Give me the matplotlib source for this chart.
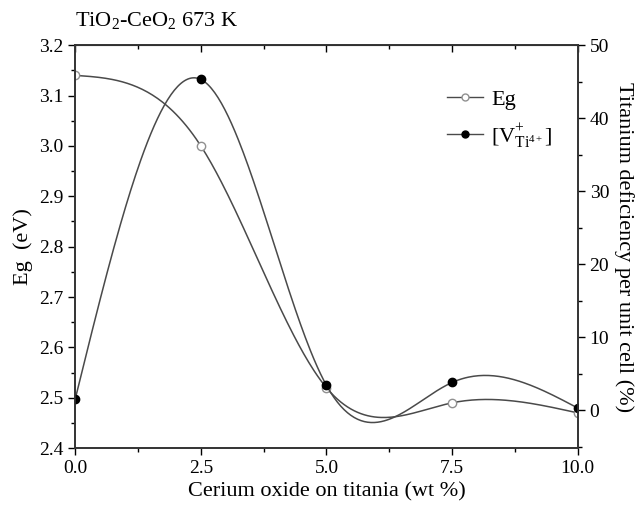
import numpy as np
import matplotlib
matplotlib.use('Agg')
from matplotlib import pyplot as plt
from matplotlib.ticker import MultipleLocator

# data
ceria = [0.0, 2.5, 5.0, 7.5, 10.0]
eg = [3.14, 3.00, 2.52, 2.49, 2.47]
vacancy = [1.5, 45.3, 3.4, 3.8, 0.3]


def natural_spline(x, y, n=300):
    # natural cubic spline so the lines look like the smoothed original
    x = np.asarray(x, float)
    y = np.asarray(y, float)
    h = np.diff(x)
    k = len(x)
    A = np.zeros((k, k))
    b = np.zeros(k)
    A[0, 0] = A[-1, -1] = 1
    for i in range(1, k - 1):
        A[i, i - 1] = h[i - 1]
        A[i, i] = 2 * (h[i - 1] + h[i])
        A[i, i + 1] = h[i]
        b[i] = 6 * ((y[i + 1] - y[i]) / h[i] - (y[i] - y[i - 1]) / h[i - 1])
    m = np.linalg.solve(A, b)
    xs = np.linspace(x[0], x[-1], n)
    idx = np.clip(np.searchsorted(x, xs) - 1, 0, k - 2)
    t0 = xs - x[idx]
    t1 = x[idx + 1] - xs
    hh = h[idx]
    ys = (m[idx] * t1**3 + m[idx + 1] * t0**3) / (6 * hh) \
        + (y[idx] / hh - m[idx] * hh / 6) * t1 \
        + (y[idx + 1] / hh - m[idx + 1] * hh / 6) * t0
    return xs, ys


plt.rcParams['font.family'] = 'Liberation Serif'
plt.rcParams['mathtext.fontset'] = 'custom'
plt.rcParams['mathtext.rm'] = 'Liberation Serif'
plt.rcParams['mathtext.it'] = 'Liberation Serif'

fig = plt.figure(figsize=(6.37, 5.07), dpi=100)
ax = fig.add_axes([0.118, 0.116, 0.789, 0.795])
ax2 = ax.twinx()

line_col = '#4a4a4a'
xs, ys = natural_spline(ceria, eg)
ax.plot(xs, ys, color=line_col, lw=1.1)
ax.plot(ceria, eg, 'o', ms=6, mfc='white', mec='#909090', mew=1)

xs2, ys2 = natural_spline(ceria, vacancy)
ax2.plot(xs2, ys2, color=line_col, lw=1.1)
ax2.plot(ceria, vacancy, 'o', ms=6, mfc='black', mec='black')

# legend proxies
h1, = ax.plot([], [], '-o', color=line_col, lw=1, ms=5, mfc='white', mec='#909090')
h2, = ax.plot([], [], '-o', color=line_col, lw=1, ms=5, mfc='black', mec='black')
ax.legend([h1, h2], ['Eg', r'[V$^{+}_{\mathrm{Ti}^{4+}}$]'], loc='upper left',
          bbox_to_anchor=(0.70, 0.94), frameon=False, fontsize=16,
          handlelength=1.6, handletextpad=0.4, labelspacing=0.5)

ax.set_xlim(0, 10)
ax.set_ylim(2.4, 3.2)
ax2.set_ylim(-5.2, 50)

ax.xaxis.set_major_locator(MultipleLocator(2.5))
ax.xaxis.set_minor_locator(MultipleLocator(1.25))
ax.yaxis.set_major_locator(MultipleLocator(0.1))
ax.yaxis.set_minor_locator(MultipleLocator(0.05))
ax2.yaxis.set_major_locator(MultipleLocator(10))
ax2.yaxis.set_minor_locator(MultipleLocator(5))
ax.xaxis.set_major_formatter(plt.FormatStrFormatter('%.1f'))
ax.yaxis.set_major_formatter(plt.FormatStrFormatter('%.1f'))

ax.tick_params(axis='x', which='major', direction='out', length=5, labelsize=14, width=1)
ax.tick_params(axis='x', which='minor', direction='out', length=3, width=1)
ax.tick_params(axis='y', which='major', direction='out', length=5, labelsize=14, width=1)
ax.tick_params(axis='y', which='minor', direction='out', length=3, width=1)
ax2.tick_params(axis='y', which='major', direction='out', length=5, labelsize=14, width=1)
ax2.tick_params(axis='y', which='minor', direction='out', length=3, width=1)

# top ticks pointing in
top = ax.secondary_xaxis('top')
top.set_xticks([0, 2.5, 5, 7.5, 10])
top.set_xticks([1.25, 3.75, 6.25, 8.75], minor=True)
top.tick_params(which='major', direction='in', length=5, labeltop=False, width=1)
top.tick_params(which='minor', direction='in', length=3, width=1)

for a in (ax, ax2):
    for s in a.spines.values():
        s.set_color('#333333')
        s.set_linewidth(1.2)

ax.set_xlabel('Cerium oxide on titania (wt %)', fontsize=16)
ax.set_ylabel('Eg  (eV)', fontsize=16)
ax2.set_ylabel('Titanium deficiency per unit cell (%)', fontsize=16,
               rotation=270, labelpad=18)
ax.set_title(r'TiO$_2$-CeO$_2$ 673 K', fontsize=16, loc='left', x=0.0, pad=14)

fig.savefig('out.png', dpi=100)
